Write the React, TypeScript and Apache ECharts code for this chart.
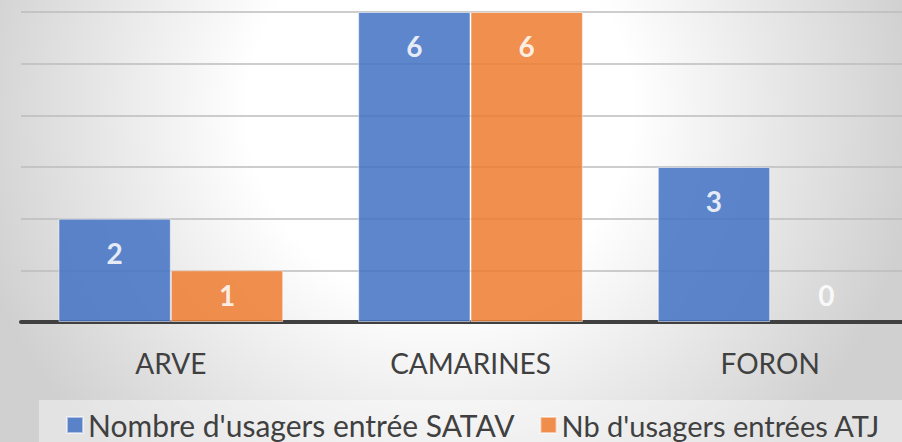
import React, { useEffect, useRef } from "react";
import * as echarts from "echarts";

const categories = ["ARVE", "CAMARINES", "FORON"];
const seriesNames = ["Nombre d'usagers entrée SATAV", "Nb d'usagers entrées ATJ"];
const satavValues = [2, 6, 3];
const atjValues = [1, 6, 0];
const yTicks = [0, 1, 2, 3, 4, 5, 6];

const FONT = "Lato";
const TEXT = "#404040";
const legendFontSizes = [30, 29];

function makeData(values: number[]) {
  return values.map((v) => ({
    value: v,
    itemStyle: v === 0 ? { borderWidth: 0 } : undefined,
    label:
      v <= 1
        ? { position: "insideBottom", distance: 13 }
        : { position: "insideTop", distance: 20 },
  }));
}

export default function App() {
  const ref = useRef<HTMLDivElement>(null);
  useEffect(() => {
    if (!ref.current) return;
    const chart = echarts.init(ref.current, undefined, { renderer: "svg" });
    const barLabel = {
      show: true,
      color: "#ffffff",
      fontFamily: FONT,
      fontWeight: "bold",
      fontSize: 28,
    };
    chart.setOption({
      animation: false,
      backgroundColor: {
        type: "radial",
        x: 440,
        y: 110,
        r: 480,
        global: true,
        colorStops: [
          { offset: 0, color: "#ffffff" },
          { offset: 0.4, color: "#ffffff" },
          { offset: 1, color: "#d0d0d0" },
        ],
      },
      graphic: [
        {
          type: "rect",
          left: 39,
          top: 400,
          z: -1,
          shape: { width: 863, height: 42 },
          style: { fill: "rgba(255,255,255,0.4)" },
        },
      ],
      grid: {
        left: 21,
        top: 12,
        width: 899,
        height: 310,
        containLabel: false,
        outerBoundsMode: "none",
      },
      xAxis: {
        type: "category",
        data: categories,
        axisTick: { show: false },
        axisLine: { show: true, lineStyle: { color: "#404040", width: 4 } },
        axisLabel: {
          color: TEXT,
          fontFamily: FONT,
          fontSize: 28,
          margin: 27,
        },
      },
      yAxis: {
        type: "value",
        min: yTicks[0],
        max: yTicks[yTicks.length - 1],
        interval: 1,
        axisLabel: { show: false },
        axisLine: { show: false },
        axisTick: { show: false },
        splitLine: { show: true, lineStyle: { color: "#bdbdbd", width: 1.5 } },
      },
      legend: {
        show: true,
        left: 66,
        top: 410,
        width: 880,
        padding: 0,
        orient: "horizontal",
        itemWidth: 16,
        itemHeight: 16,
        itemGap: 25,
        icon: "rect",
        textStyle: {
          color: TEXT,
          fontFamily: FONT,
          fontSize: 30,
          lineHeight: 30,
          padding: [0, 0, 0, 0],
        },
        data: seriesNames.map((name, i) => ({
          name,
          textStyle: { fontSize: legendFontSizes[i], lineHeight: 30 },
        })),
      },
      series: [
        {
          name: seriesNames[0],
          type: "bar",
          data: makeData(satavValues),
          barGap: "0%",
          barCategoryGap: "25%",
          itemStyle: {
            color: "#4472C4",
            opacity: 0.86,
            borderColor: "rgba(255,255,255,0.6)",
            borderWidth: 1,
          },
          label: barLabel,
        },
        {
          name: seriesNames[1],
          type: "bar",
          data: makeData(atjValues),
          barGap: "0%",
          barCategoryGap: "25%",
          itemStyle: {
            color: "#ED7D31",
            opacity: 0.86,
            borderColor: "rgba(255,255,255,0.6)",
            borderWidth: 1,
          },
          label: barLabel,
        },
      ],
    });
    return () => chart.dispose();
  }, []);
  return (
    <div
      ref={ref}
      style={{ position: "absolute", left: 0, top: 0, width: 902, height: 442 }}
    />
  );
}
